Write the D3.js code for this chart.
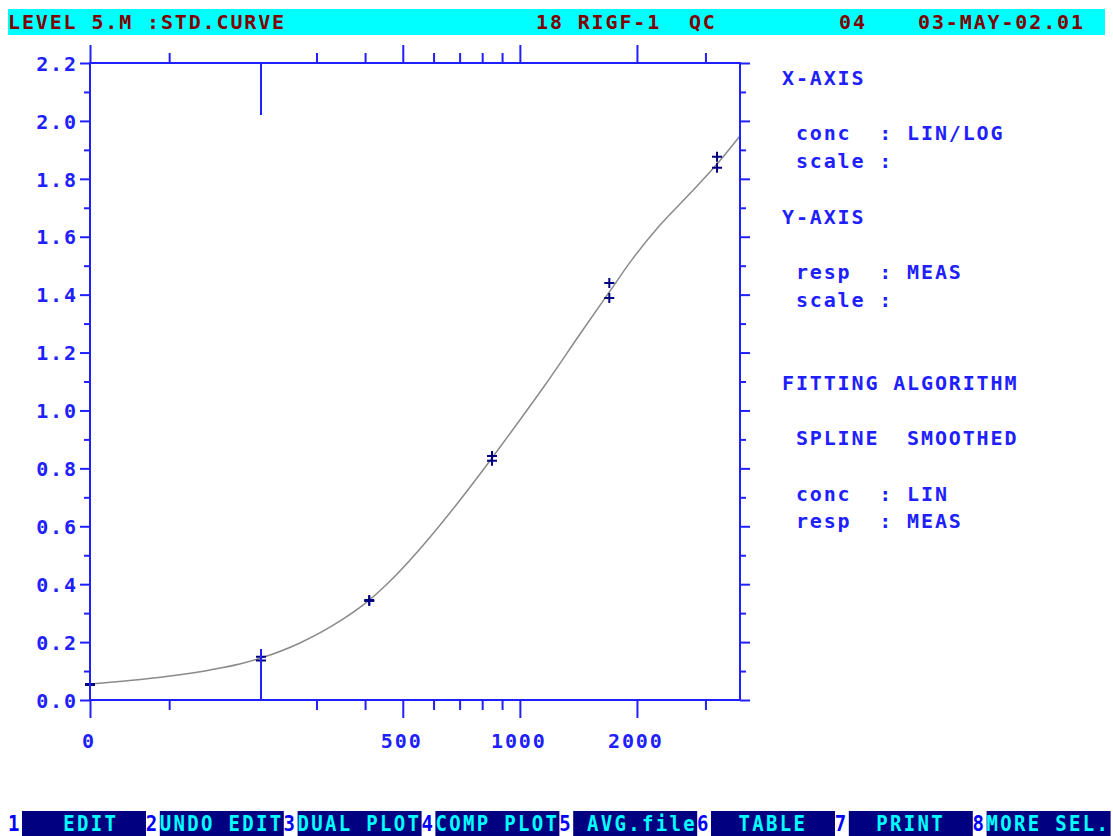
<!DOCTYPE html>
<html>
<head>
<meta charset="utf-8">
<script src="https://cdn.jsdelivr.net/npm/d3@7"></script>
<style>
  body { margin: 0; background: #fff; overflow: hidden; }
  svg text { font-family: "DejaVu Sans Mono", monospace; font-weight: bold; white-space: pre; }
</style>
</head>
<body>
<svg id="chart" width="1113" height="836"></svg>
<script>
// ---- data ----
const headerLeft = 'LEVEL 5.M :STD.CURVE';
const headerMid = '18 RIGF-1  QC';
const headerRun = '04';
const headerDate = '03-MAY-02.01';

const yMajor = [0, 0.2, 0.4, 0.6, 0.8, 1.0, 1.2, 1.4, 1.6, 1.8, 2.0, 2.2];
const yMinor = [0.1, 0.3, 0.5, 0.7, 0.9, 1.1, 1.3, 1.5, 1.7, 1.9, 2.1];
const xBreak = 216;      // lin -> log switch (first standard)
const xMax = 3681;
const xLabels = [0, 500, 1000, 2000];
const xMinorLin = [100];
const xMinorLog = [300, 400, 600, 700, 800, 900, 3000];

// standards, duplicate readings
const stdConc = [0, 216, 410, 848, 1698, 3213];
const respA = [0.055, 0.149, 0.345, 0.843, 1.440, 1.876];
const respB = [0.052, 0.136, 0.342, 0.826, 1.388, 1.838];

// smoothed spline as drawn
const fitConc = [0, 50, 101, 152, 189, 216, 272, 345, 410, 464, 588, 702, 848, 1000, 1161, 1428, 1698, 1940, 2296, 2745, 3213, 3681];
const fitResp = [0.055, 0.067, 0.083, 0.104, 0.124, 0.145, 0.197, 0.273, 0.345, 0.411, 0.563, 0.691, 0.836, 0.967, 1.088, 1.264, 1.409, 1.520, 1.641, 1.751, 1.851, 1.948];

const panelLines = [
  'X-AXIS', '', ' conc  : LIN/LOG', ' scale :', '',
  'Y-AXIS', '', ' resp  : MEAS', ' scale :', '', '',
  'FITTING ALGORITHM', '', ' SPLINE  SMOOTHED', '', ' conc  : LIN', ' resp  : MEAS'
];

const keyNumbers = ['1', '2', '3', '4', '5', '6', '7', '8'];
const keyLabels = ['   EDIT  ', 'UNDO EDIT', 'DUAL PLOT', 'COMP PLOT', ' AVG.file', '  TABLE  ', '  PRINT  ', 'MORE SEL.'];

// ---- layout ----
const BLUE = '#2020ff';
const NAVY = '#000080';
const CYAN = '#00ffff';
const charW = 13.9;
const fs = 20;
const ls = charW - fs * 0.602;

const svg = d3.select('#chart');

const plot = {left: 90, right: 740, top: 63, bottom: 700};

const xLin = d3.scaleLinear().domain([0, xBreak]).range([plot.left, 261]);
const xLog = d3.scaleLog().domain([xBreak, xMax]).range([261, plot.right]);
const x = v => v <= xBreak ? xLin(v) : xLog(v);
const y = d3.scaleLinear().domain([0, 2.2]).range([plot.bottom, plot.top]);

// header bar
svg.append('rect').attr('x', 8).attr('y', 9).attr('width', 1097).attr('height', 26).attr('fill', CYAN);
const hdr = svg.append('g').attr('fill', '#800000').attr('font-size', fs).attr('letter-spacing', ls);
hdr.append('text').attr('x', 8).attr('y', 28.5).text(headerLeft);
hdr.append('text').attr('x', 536).attr('y', 28.5).text(headerMid);
hdr.append('text').attr('x', 839).attr('y', 28.5).text(headerRun);
hdr.append('text').attr('x', 1083 + ls).attr('y', 28.5).attr('text-anchor', 'end').text(headerDate);

// fitted curve
const line = d3.line()
  .x(d => x(d[0]))
  .y(d => y(d[1]))
  .curve(d3.curveMonotoneX);
svg.append('path')
  .datum(d3.zip(fitConc, fitResp))
  .attr('d', line)
  .attr('fill', 'none')
  .attr('stroke', '#8a8a8a')
  .attr('stroke-width', 1.5);

// measured points
const pts = d3.zip(stdConc, respA).concat(d3.zip(stdConc, respB));
svg.append('g').selectAll('path')
  .data(pts)
  .join('path')
  .attr('transform', d => `translate(${x(d[0])},${y(d[1])})`)
  .attr('d', 'M-5,0H5M0,-5V5')
  .attr('stroke', NAVY)
  .attr('stroke-width', 2);

// axes
function styleAxis(g) {
  g.select('.domain').remove();
  g.selectAll('line').attr('stroke', BLUE).attr('stroke-width', 2);
}
const axes = svg.append('g');
axes.append('g').attr('transform', `translate(${plot.left},0)`)
  .call(d3.axisLeft(y).tickValues(yMajor).tickSize(10).tickPadding(4 - ls).tickFormat(d3.format('.1f')))
  .call(styleAxis)
  .call(g => g.selectAll('text')
    .attr('fill', BLUE).attr('font-size', fs).attr('letter-spacing', ls)
    .attr('font-family', '"DejaVu Sans Mono", monospace').attr('dy', '0.36em'));
axes.append('g').attr('transform', `translate(${plot.left},0)`)
  .call(d3.axisLeft(y).tickValues(yMinor).tickSize(6).tickFormat(''))
  .call(styleAxis);
axes.append('g').attr('transform', `translate(${plot.right},0)`)
  .call(d3.axisRight(y).tickValues(yMajor).tickSize(10).tickFormat(''))
  .call(styleAxis);
axes.append('g').attr('transform', `translate(${plot.right},0)`)
  .call(d3.axisRight(y).tickValues(yMinor).tickSize(6).tickFormat(''))
  .call(styleAxis);

[[plot.bottom, d3.axisBottom], [plot.top, d3.axisTop]].forEach(([yy, ax]) => {
  axes.append('g').attr('transform', `translate(0,${yy})`)
    .call(ax(xLin).tickValues([0]).tickSize(18).tickFormat(''))
    .call(styleAxis);
  axes.append('g').attr('transform', `translate(0,${yy})`)
    .call(ax(xLin).tickValues(xMinorLin).tickSize(10).tickFormat(''))
    .call(styleAxis);
  axes.append('g').attr('transform', `translate(0,${yy})`)
    .call(ax(xLog).tickValues(xLabels.filter(v => v > xBreak)).tickSize(18).tickFormat(''))
    .call(styleAxis);
  axes.append('g').attr('transform', `translate(0,${yy})`)
    .call(ax(xLog).tickValues(xMinorLog).tickSize(10).tickFormat(''))
    .call(styleAxis);
});

// frame
axes.append('rect')
  .attr('x', plot.left).attr('y', plot.top)
  .attr('width', plot.right - plot.left).attr('height', plot.bottom - plot.top)
  .attr('fill', 'none').attr('stroke', BLUE).attr('stroke-width', 2);

// lin/log break markers
axes.append('line').attr('x1', x(xBreak)).attr('x2', x(xBreak))
  .attr('y1', plot.top).attr('y2', plot.top + 52).attr('stroke', BLUE).attr('stroke-width', 2);
axes.append('line').attr('x1', x(xBreak)).attr('x2', x(xBreak))
  .attr('y1', plot.bottom - 51).attr('y2', plot.bottom).attr('stroke', BLUE).attr('stroke-width', 2);

// x labels
axes.append('g').attr('fill', BLUE).attr('font-size', fs).attr('letter-spacing', ls)
  .selectAll('text')
  .data(xLabels)
  .join('text')
  .attr('x', d => x(d) - 2 + ls / 2)
  .attr('y', 748)
  .attr('text-anchor', 'middle')
  .text(d => d);

// right info panel
svg.append('g').attr('fill', BLUE).attr('font-size', fs).attr('letter-spacing', ls)
  .selectAll('text')
  .data(panelLines)
  .join('text')
  .attr('x', 782)
  .attr('y', (d, i) => 85 + i * 27.7)
  .text(d => d);

// function key bar
const slotW = 137.8;
const keys = svg.append('g');
keys.selectAll('rect')
  .data(keyLabels)
  .join('rect')
  .attr('x', (d, i) => 22 + i * slotW)
  .attr('y', 811)
  .attr('width', 124)
  .attr('height', 25)
  .attr('fill', NAVY);
keys.selectAll('text.num')
  .data(keyNumbers)
  .join('text')
  .attr('class', 'num')
  .attr('transform', (d, i) => `translate(${8 + i * slotW},830.5) scale(1,1.15)`)
  .attr('font-size', 19)
  .attr('fill', '#0000ff')
  .text(d => d);
keys.selectAll('text.lbl')
  .data(keyLabels)
  .join('text')
  .attr('class', 'lbl')
  .attr('transform', (d, i) => `translate(${22 + i * slotW},830.5) scale(1,1.15)`)
  .attr('font-size', 19)
  .attr('letter-spacing', 13.75 - 19 * 0.602)
  .attr('fill', CYAN)
  .text(d => d);
</script>
</body>
</html>
